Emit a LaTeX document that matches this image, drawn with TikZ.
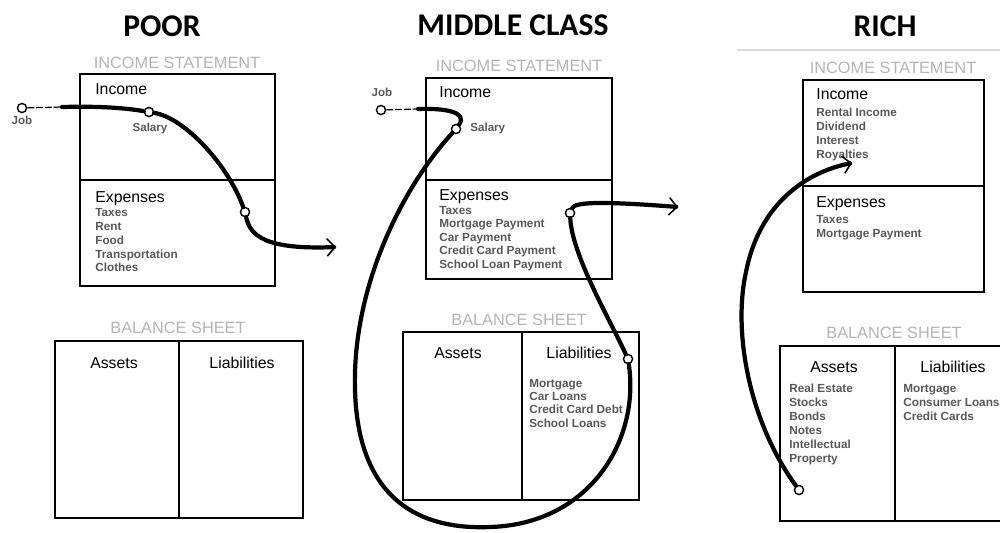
\documentclass[tikz,border=0pt]{standalone}
\usepackage{fontspec}
\setmainfont{Liberation Sans}
\newfontfamily\titlefont{Carlito}
\usetikzlibrary{arrows.meta}
\definecolor{sheetgray}{HTML}{B4B4B4}
\definecolor{itemgray}{HTML}{585858}
\definecolor{rulegray}{HTML}{DCDCDC}
\tikzstyle{classtitle} = [anchor=base, inner sep=0pt, font=\titlefont\bfseries\fontsize{18}{20}\selectfont]
\tikzstyle{sheettitle} = [anchor=base, inner sep=0pt, text=sheetgray, font=\fontsize{9.3}{11}\selectfont]
\tikzstyle{parthead} = [anchor=base west, inner sep=0pt, font=\fontsize{9}{11}\selectfont]
\tikzstyle{colhead} = [anchor=base, inner sep=0pt, font=\fontsize{9}{11}\selectfont]
\tikzstyle{itemlist} = [anchor=north west, inner sep=0pt, align=left, text=itemgray, font=\bfseries\fontsize{6.7}{7.9}\selectfont]
\tikzstyle{flowtag} = [anchor=base, inner sep=0pt, text=itemgray, font=\bfseries\fontsize{6.6}{8}\selectfont]
\tikzstyle{sheetbox} = [draw=black, line width=1.1pt]
\tikzstyle{ring} = [circle, draw=black, fill=white, line width=0.8pt, inner sep=0pt, minimum size=5.2pt]
\tikzstyle{cashflow} = [line width=2.4pt, line cap=round]
\tikzstyle{leadin} = [line width=0.7pt, dash pattern=on 4pt off 1pt]
\tikzstyle{outarrow} = [-{Straight Barb[length=4.5pt,width=10pt,line width=0.9pt]}]

\begin{document}
\begin{tikzpicture}[x=0.02cm, y=-0.02cm]
\useasboundingbox (0,0) rectangle (1000,532);

% titles
\node[classtitle] (poor) at (162,36) {POOR};
\node[classtitle] (middle) at (513,35) {MIDDLE CLASS};
\node[classtitle] (rich) at (885,36) {RICH};
\draw[rulegray, line width=0.6pt] (737,50) -- (1000,50);

% poor
\node[sheettitle] (poorist) at (177,68) {INCOME STATEMENT};
\draw[sheetbox] (80,74) rectangle (275,286) (80,180) -- (275,180);
\node[parthead] (poorinc) at (95,94) {Income};
\node[parthead] (poorexp) at (95,202) {Expenses};
\node[itemlist] (poorexpl) at (95,208) {Taxes\\Rent\\Food\\Transportation\\Clothes};
\node[sheettitle] (poorbst) at (178,333) {BALANCE SHEET};
\draw[sheetbox] (55,341) rectangle (303,518) (179,341) -- (179,518);
\node[colhead] (poorast) at (114,368) {Assets};
\node[colhead] (poorlia) at (242,368) {Liabilities};
\node[ring] (poorjob) at (22,108) {};
\node[flowtag] (poorjobl) at (22,124) {Job};
\node[ring] (poorsal) at (149,112) {};
\node[flowtag] (poorsall) at (150,131) {Salary};
\node[ring] (poorspend) at (245,212) {};
\coordinate (poorin) at (62,107);
\coordinate (poorout) at (336,247);
\draw[leadin] (poorjob) -- (poorin);
\draw[cashflow] (poorin) .. controls (100,106) and (125,108) .. (poorsal);
\draw[cashflow] (poorsal) .. controls (185,118) and (228,165) .. (poorspend);
\draw[cashflow, outarrow] (poorspend) .. controls (250,235) and (264,250) .. (poorout);

% middle class
\node[sheettitle] (midist) at (519,71) {INCOME STATEMENT};
\draw[sheetbox] (426,78) rectangle (612,279) (426,180) -- (612,180);
\node[parthead] (midinc) at (439,97) {Income};
\node[parthead] (midexp) at (439,200) {Expenses};
\node[itemlist, font=\bfseries\fontsize{6.7}{7.65}\selectfont] (midexpl) at (439,206)
  {Taxes\\Mortgage Payment\\Car Payment\\Credit Card Payment\\School Loan Payment};
\node[sheettitle] (midbst) at (519,325) {BALANCE SHEET};
\draw[sheetbox] (403,332) rectangle (639,500) (522,332) -- (522,500);
\node[colhead] (midast) at (458,358) {Assets};
\node[colhead] (midlia) at (579,358) {Liabilities};
\node[itemlist, font=\bfseries\fontsize{6.7}{7.55}\selectfont] (midlial) at (529,379)
  {Mortgage\\Car Loans\\Credit Card Debt\\School Loans};
\node[ring] (midjob) at (381,110) {};
\node[flowtag] (midjobl) at (382,96) {Job};
\node[ring] (midsal) at (456,129) {};
\node[flowtag, anchor=base west] (midsall) at (470,131) {Salary};
\node[ring] (midspend) at (570,213) {};
\node[ring] (midowe) at (628,359) {};
\coordinate (midin) at (418,109);
\coordinate (midleft) at (355,390);
\coordinate (midlow) at (490,527);
\coordinate (midout) at (678,207);
\draw[leadin] (midjob) -- (midin);
\draw[cashflow] (midin) .. controls (445,108) and (468,112) .. (midsal);
\draw[cashflow] (midsal) .. controls (400,190) and (352,290) .. (midleft)
  .. controls (358,500) and (420,530) .. (midlow)
  .. controls (590,524) and (640,440) .. (midowe);
\draw[cashflow] (midowe) .. controls (610,320) and (572,255) .. (midspend);
\draw[cashflow, outarrow] (midspend) .. controls (575,202) and (600,201) .. (midout);

% rich
\node[sheettitle] (richist) at (893,73) {INCOME STATEMENT};
\draw[sheetbox] (803,80) rectangle (984,292) (803,186) -- (984,186);
\node[parthead] (richinc) at (816,99) {Income};
\node[itemlist] (richincl) at (816,108) {Rental Income\\Dividend\\Interest\\Royalties};
\node[parthead] (richexp) at (816,207) {Expenses};
\node[itemlist] (richexpl) at (816,215) {Taxes\\Mortgage Payment};
\node[sheettitle] (richbst) at (894,338) {BALANCE SHEET};
\draw[sheetbox] (780,346) rectangle (1012,521) (895,346) -- (895,521);
\node[colhead] (richast) at (834,372) {Assets};
\node[colhead] (richlia) at (953,372) {Liabilities};
\node[itemlist] (richastl) at (789,384) {Real Estate\\Stocks\\Bonds\\Notes\\Intellectual\\Property};
\node[itemlist] (richlial) at (903,384) {Mortgage\\Consumer Loans\\Credit Cards};
\node[ring] (richown) at (799,490) {};
\coordinate (richbend) at (746,272);
\coordinate (richin) at (852,163);
\draw[cashflow, outarrow] (richown) .. controls (748,420) and (733,330) .. (richbend)
  .. controls (759,205) and (805,172) .. (richin);
\end{tikzpicture}
\end{document}
